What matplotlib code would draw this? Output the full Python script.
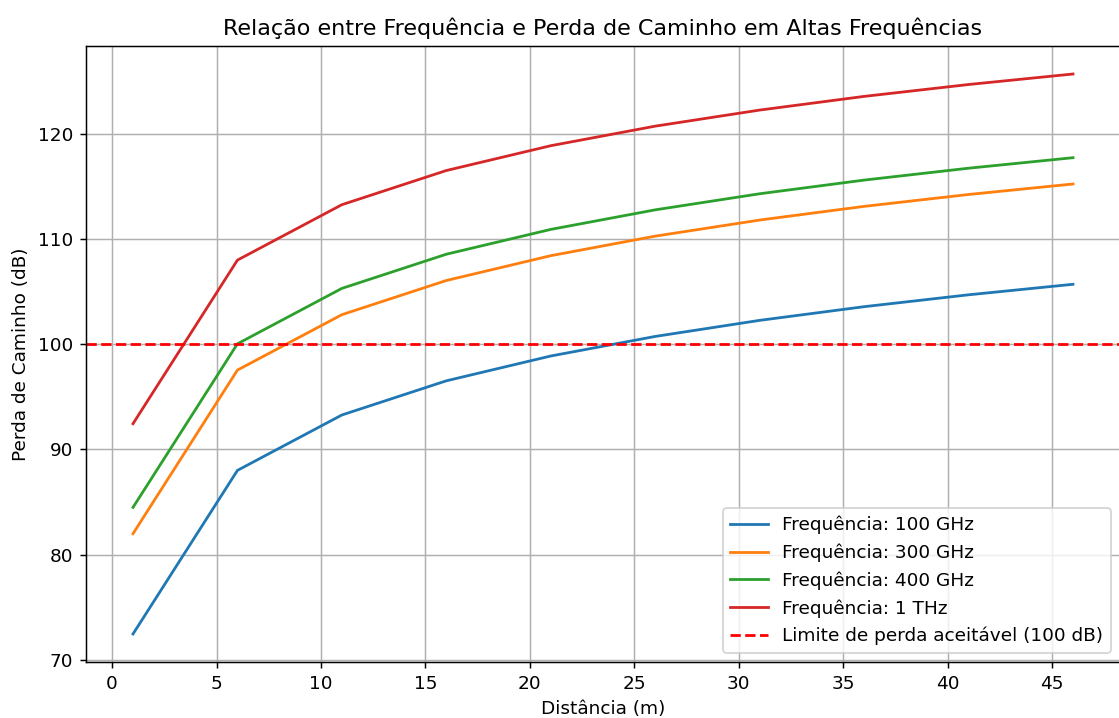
import matplotlib
matplotlib.use("Agg")
import matplotlib.pyplot as plt

# --- Data ---
distancias = [1, 6, 11, 16, 21, 26, 31, 36, 41, 46]
perda_100ghz = [72.44, 88.00, 93.27, 96.52, 98.88, 100.74, 102.27, 103.57, 104.70, 105.70]
perda_300ghz = [81.98, 97.54, 102.81, 106.06, 108.42, 110.28, 111.81, 113.11, 114.24, 115.24]
perda_400ghz = [84.48, 100.04, 105.31, 108.56, 110.92, 112.78, 114.31, 115.61, 116.74, 117.74]
perda_1thz = [92.44, 108.00, 113.27, 116.52, 118.88, 120.74, 122.27, 123.57, 124.70, 125.70]
rotulos = ["Frequência: 100 GHz", "Frequência: 300 GHz", "Frequência: 400 GHz", "Frequência: 1 THz"]
limite = 100

# --- Plot ---
DPI = 133.33
fig = plt.figure(figsize=(1119 / DPI, 718 / DPI), dpi=DPI)
ax = fig.add_axes([86 / 1119, 56 / 718, 1034 / 1119, 616 / 718])

for serie, rotulo in zip([perda_100ghz, perda_300ghz, perda_400ghz, perda_1thz], rotulos):
    ax.plot(distancias, serie, label=rotulo)

ax.axhline(limite, color="red", linestyle="--", label="Limite de perda aceitável (100 dB)")

ax.set_title("Relação entre Frequência e Perda de Caminho em Altas Frequências")
ax.set_xlabel("Distância (m)")
ax.set_ylabel("Perda de Caminho (dB)")
ax.set_xticks(range(0, 50, 5))
ax.legend(loc="lower right")
ax.grid(True)

fig.savefig("out.png", dpi=DPI)
